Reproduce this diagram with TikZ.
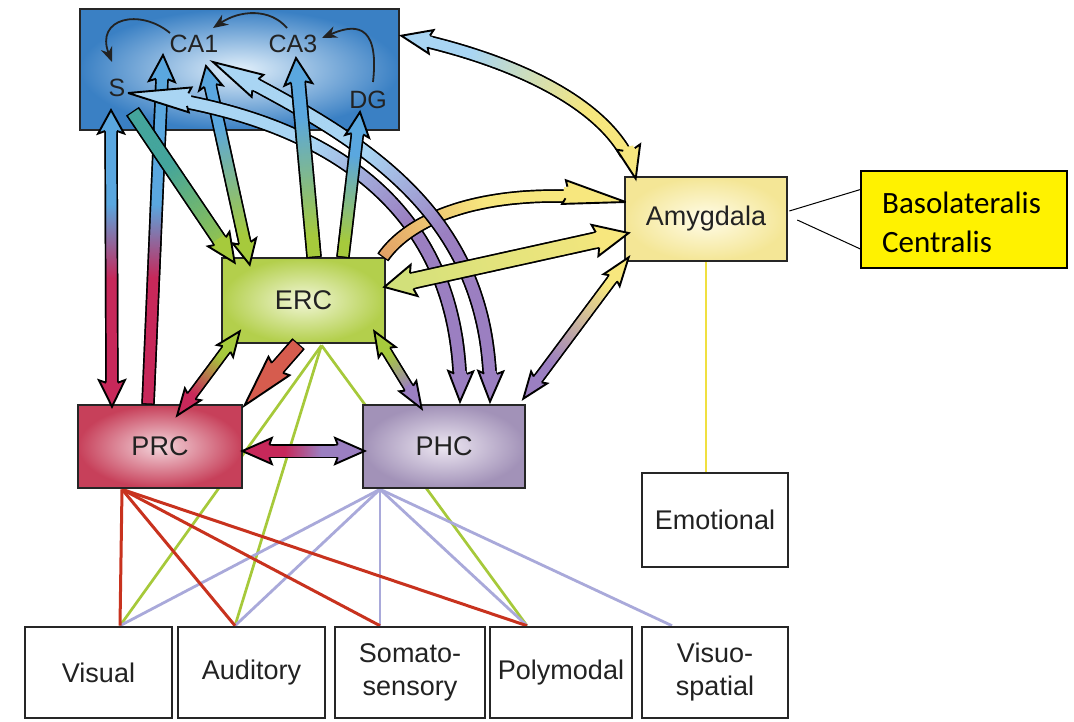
\documentclass[tikz,border=0pt]{standalone}
\usepackage{fontspec}
\setmainfont{Liberation Sans}
\newfontfamily\calib{Carlito}
\usetikzlibrary{decorations.markings,arrows.meta}
\pgfdeclarelayer{bg}
\pgfsetlayers{bg,main}

\definecolor{boxline}{HTML}{262626}
\definecolor{hipO}{HTML}{3A80C4}
\definecolor{hipI}{HTML}{E2F0FB}
\definecolor{ercO}{HTML}{B3CF4C}
\definecolor{ercI}{HTML}{F1F6D6}
\definecolor{prcO}{HTML}{C7405A}
\definecolor{prcI}{HTML}{F3D6DC}
\definecolor{phcO}{HTML}{A292B8}
\definecolor{phcI}{HTML}{EDE7F2}
\definecolor{amyO}{HTML}{F4E696}
\definecolor{amyI}{HTML}{FFFCE8}
\definecolor{cblue}{HTML}{5AA7DF}
\definecolor{clight}{HTML}{A9D5F3}
\definecolor{cgreen}{HTML}{A6CA3C}
\definecolor{cteal}{HTML}{44A59C}
\definecolor{cred}{HTML}{C7285A}
\definecolor{csalmon}{HTML}{D65C4E}
\definecolor{cpurple}{HTML}{9B7FC1}
\definecolor{cyellow}{HTML}{F7E77E}
\definecolor{cygreen}{HTML}{D2E07A}
\definecolor{corange}{HTML}{E3A266}
\definecolor{lred}{HTML}{C8321E}
\definecolor{lgreen}{HTML}{A6C93A}
\definecolor{llav}{HTML}{A9A9DA}
\definecolor{lyel}{HTML}{F0E040}
\definecolor{txt}{HTML}{222222}

\pgfkeys{/fat/.cd,
  w/.store in=\fatW, a/.store in=\fatA, b/.store in=\fatB,
  p/.store in=\fatP, q/.store in=\fatQ,
  sh/.store in=\fatSH, eh/.store in=\fatEH, H/.store in=\fatHH}

\newcommand\fatmarkO{\fill[black] (-0.9pt,-\fatW-1.7pt) rectangle (0.9pt,\fatW+1.7pt);}
\newcommand\fatmarkC{%
  \pgfmathsetmacro\fatT{\pgfkeysvalueof{/pgf/decoration/mark info/distance from start}/\pgfdecoratedpathlength*100}%
  \pgfmathtruncatemacro\fatPct{min(100,max(0,(\fatT-\fatP)/(\fatQ-\fatP)*100))}%
  \fill[fill={\fatB!\fatPct!\fatA}] (-0.8pt,-\fatW) rectangle (0.8pt,\fatW);}
\newcommand\fathead[3][]{%
  \begin{scope}[#1]
    \fill[fill=#3] (0pt,0pt) -- (-#2-2.5pt,\fatHH) -- (-#2,\fatW) -- (-#2-3pt,\fatW) -- (-#2-3pt,-\fatW) -- (-#2,-\fatW) -- (-#2-2.5pt,-\fatHH) -- cycle;
    \draw[black,line width=1.9pt,line join=miter,miter limit=5] (-#2,\fatW+0.9pt) -- (-#2-2.5pt,\fatHH) -- (0pt,0pt) -- (-#2-2.5pt,-\fatHH) -- (-#2,-\fatW-0.9pt);
  \end{scope}}
\newcommand\fat[2][]{%
  \begingroup
  \pgfkeys{/fat/.cd, w=5pt, a=cblue, b=cred, p=0, q=100, sh=0pt, eh=22pt, H=12pt, #1}%
  \pgfmathsetlengthmacro\fatS{max(\fatSH-1.5pt,0pt)}%
  \pgfmathsetlengthmacro\fatE{max(\fatEH-1.5pt,0.05pt)}%
  \pgfmathsetlengthmacro\fatSc{max(\fatSH-1.5pt,1.2pt)}%
  \pgfmathsetlengthmacro\fatEc{max(\fatEH-1.5pt,1.2pt)}%
  \path[decorate,decoration={markings,mark=between positions \fatS and -\fatE step 1pt with {\fatmarkO}}] #2;
  \path[decorate,decoration={markings,mark=between positions \fatSc and -\fatEc step 1pt with {\fatmarkC}}] #2;
  \ifdim\fatEH>0pt \path[decorate,decoration={markings,mark=at position 0.9999 with {\fathead{\fatEH}{\fatB}}}] #2;\fi
  \ifdim\fatSH>0pt \path[decorate,decoration={markings,mark=at position 0.0001 with {\fathead[rotate=180]{\fatSH}{\fatA}}}] #2;\fi
  \endgroup}

\begin{document}
\begin{tikzpicture}[x=1pt,y=-1pt,
  box/.style={draw=boxline, line width=2.6pt, rectangle, inner sep=0pt, font=\fontsize{27}{33}\selectfont, text=txt, align=center},
  lbl/.style={inner sep=0pt, font=\fontsize{25}{28}\selectfont, text=txt},
  inarr/.style={draw=txt, line width=1.8pt, -{Stealth[length=15pt,width=12pt]}},
  thinred/.style={draw=lred, line width=3pt},
  thingreen/.style={draw=lgreen, line width=2.7pt},
  thinlav/.style={draw=llav, line width=2.8pt},
  labline/.style={draw=black, line width=1pt}]
\useasboundingbox (0,0) rectangle (1074,721);
\begin{pgfonlayer}{bg}
\fill[white] (0,0) rectangle (1074,721);
\end{pgfonlayer}

% boxes
\node[box, inner color=hipI, outer color=hipO, minimum width=319pt, minimum height=121pt] (hip) at (239.5,69.5) {};
\node[box, inner color=ercI, outer color=ercO, minimum width=163pt, minimum height=85pt] (erc) at (303.5,300.5) {ERC};
\node[box, inner color=prcI, outer color=prcO, minimum width=164pt, minimum height=83pt] (prc) at (160,446.5) {PRC};
\node[box, inner color=phcI, outer color=phcO, minimum width=162pt, minimum height=83pt] (phc) at (444,446.5) {PHC};
\node[box, inner color=amyI, outer color=amyO, minimum width=162pt, minimum height=84pt] (amy) at (706,219) {Amygdala};
\node[box, fill=white, minimum width=146pt, minimum height=94pt] (emo) at (715,520) {Emotional};
\node[box, fill=white, minimum width=147pt, minimum height=91pt] (vis) at (98.5,672.5) {Visual};
\node[box, fill=white, minimum width=147pt, minimum height=91pt] (aud) at (251.5,672.5) {Auditory};
\node[box, fill=white, minimum width=150pt, minimum height=91pt] (som) at (410,672.5) {Somato-\\sensory};
\node[box, fill=white, minimum width=142pt, minimum height=91pt] (pol) at (561,672.5) {Polymodal};
\node[box, fill=white, minimum width=146pt, minimum height=91pt] (vsp) at (715,672.5) {Visuo-\\spatial};
\node[draw=black, line width=1.2pt, fill=yellow, minimum width=206pt, minimum height=97pt, inner sep=0pt] (lab) at (964,219.5) {};
\node[anchor=base west, inner sep=0pt, font=\calib\fontsize{31}{38}\selectfont] (labA) at (882,213) {Basolateralis};
\node[anchor=base west, inner sep=0pt, font=\calib\fontsize{31}{38}\selectfont] (labB) at (882,252) {Centralis};

% hippocampal labels
\node[lbl] (s) at (117,88) {S};
\node[lbl] (ca1) at (194,44) {CA1};
\node[lbl] (ca3) at (293,44) {CA3};
\node[lbl] (dg) at (368,100) {DG};

% thin connections (behind boxes)
\begin{pgfonlayer}{bg}
\draw[thingreen] ([shift={(18,1)}]erc.south) -- ([shift={(21.5,0)}]vis.north);
\draw[thingreen] ([shift={(18,1)}]erc.south) -- ([shift={(-16.5,0)}]aud.north);
\draw[thingreen] ([shift={(18,1)}]erc.south) -- ([shift={(-34,0)}]pol.north);
\draw[thinlav] ([shift={(-64,0)}]phc.south) -- ([shift={(21.5,0)}]vis.north);
\draw[thinlav] ([shift={(-64,0)}]phc.south) -- ([shift={(-16.5,0)}]aud.north);
\draw[thinlav] ([shift={(-64,0)}]phc.south) -- ([shift={(-30,0)}]som.north);
\draw[thinlav] ([shift={(-64,0)}]phc.south) -- ([shift={(-34,0)}]pol.north);
\draw[thinlav] ([shift={(-64,0)}]phc.south) -- ([shift={(-43,0)}]vsp.north);
\draw[thinred] ([shift={(-38,0)}]prc.south) -- ([shift={(21.5,0)}]vis.north);
\draw[thinred] ([shift={(-38,0)}]prc.south) -- ([shift={(-16.5,0)}]aud.north);
\draw[thinred] ([shift={(-38,0)}]prc.south) -- ([shift={(-30,0)}]som.north);
\draw[thinred] ([shift={(-38,0)}]prc.south) -- ([shift={(-34,0)}]pol.north);
\draw[draw=lyel, line width=2.4pt] (amy.south) -- ([shift={(-9,0)}]emo.north);
\end{pgfonlayer}
\draw[labline] ([shift={(1,-8)}]amy.east) -- ([shift={(0,-30)}]lab.west);
\draw[labline] ([shift={(9,1)}]amy.east) -- ([shift={(0,29.5)}]lab.west);

% fat arrows
\fat[a=cred,b=cblue,p=36,q=57,eh=24pt,H=13pt,w=5pt]{([shift={(-12,0)}]prc.north) -- ([shift={(-31,11)}]ca1.center)}
\fat[a=cblue,b=cred,p=32,q=57,sh=21pt,eh=24pt,H=13pt,w=5pt]{([shift={(-6,22)}]s.center) -- ([shift={(-48,3)}]prc.north)}
\fat[a=cteal,b=cgreen,p=35,q=100,eh=26pt,H=13pt,w=6pt]{([shift={(16,24)}]s.center) -- ([shift={(14,6)}]erc.north west)}
\fat[a=cblue,b=cgreen,p=30,q=85,sh=20pt,eh=22pt,H=12pt,w=5pt]{([shift={(12,22)}]ca1.center) -- ([shift={(29,8)}]erc.north west)}
\fat[a=clight,b=cpurple,p=38,q=62,sh=60pt,eh=28pt,H=12.5pt,w=5.5pt]{([shift={(11,5)}]s.center) .. controls (300,112) and (465,188) .. ([shift={(16,-2)}]phc.north)}
\fat[a=corange,b=cyellow,p=0,q=45,eh=60pt,H=12pt,w=5pt]{([shift={(-3,0)}]erc.north east) .. controls (420,205) and (520,185) .. ([shift={(2,-17)}]amy.west)}
\fat[a=clight,b=cpurple,p=38,q=62,sh=48pt,eh=28pt,H=12.5pt,w=5.5pt]{([shift={(19,18)}]ca1.center) .. controls (340,130) and (495,200) .. ([shift={(46,-2)}]phc.north)}
\fat[a=cgreen,b=cblue,p=10,q=70,eh=24pt,H=14pt,w=6pt]{([shift={(10.5,0)}]erc.north) -- ([shift={(3,14)}]ca3.center)}
\fat[a=cgreen,b=cblue,p=10,q=70,eh=22pt,H=12pt,w=5pt]{([shift={(39.5,0)}]erc.north) -- ([shift={(-8,12)}]dg.center)}
\fat[a=cygreen,b=cyellow,sh=28pt,eh=32pt,H=16pt,w=7pt]{([shift={(-2,-13.5)}]erc.east) -- ([shift={(5,14)}]amy.west)}
\fat[a=clight,b=cyellow,p=25,q=70,sh=28pt,eh=30pt,H=12pt,w=5pt]{([shift={(1,28)}]hip.north east) .. controls (520,60) and (620,110) .. ([shift={(12,3)}]amy.north west)}
\fat[a=cpurple,b=cyellow,p=25,q=80,sh=24pt,eh=26pt,H=10pt,w=4pt]{([shift={(-3,-5)}]phc.north east) -- ([shift={(5,-5)}]amy.south west)}
\fat[a=cgreen,b=cred,p=30,q=75,sh=22pt,eh=24pt,H=10pt,w=3.8pt]{([shift={(19,-13)}]erc.south west) -- ([shift={(17,12)}]prc.north)}
\fat[a=csalmon,b=csalmon,eh=50pt,H=14pt,w=6.5pt]{([shift={(-5.5,0)}]erc.south) -- ([shift={(1,2)}]prc.north east)}
\fat[a=cgreen,b=cpurple,p=30,q=75,sh=22pt,eh=24pt,H=10pt,w=3.8pt]{([shift={(-12,-13)}]erc.south east) -- ([shift={(60,5)}]phc.north west)}
\fat[a=cred,b=cpurple,p=35,q=65,sh=27pt,eh=27pt,H=13pt,w=5.5pt]{([shift={(-1,4.5)}]prc.east) -- ([shift={(3,4.5)}]phc.west)}

% internal hippocampal circuit
\draw[inarr] ([shift={(-24,-11)}]ca1.center) .. controls (140,8) and (95,18) .. ([shift={(-5,-26)}]s.center);
\draw[inarr] ([shift={(-6,-16)}]ca3.center) .. controls (270,8) and (240,10) .. ([shift={(19,-16)}]ca1.center);
\draw[inarr] ([shift={(5,-18)}]dg.center) .. controls (380,20) and (352,25) .. ([shift={(29,-6)}]ca3.center);
\end{tikzpicture}
\end{document}
